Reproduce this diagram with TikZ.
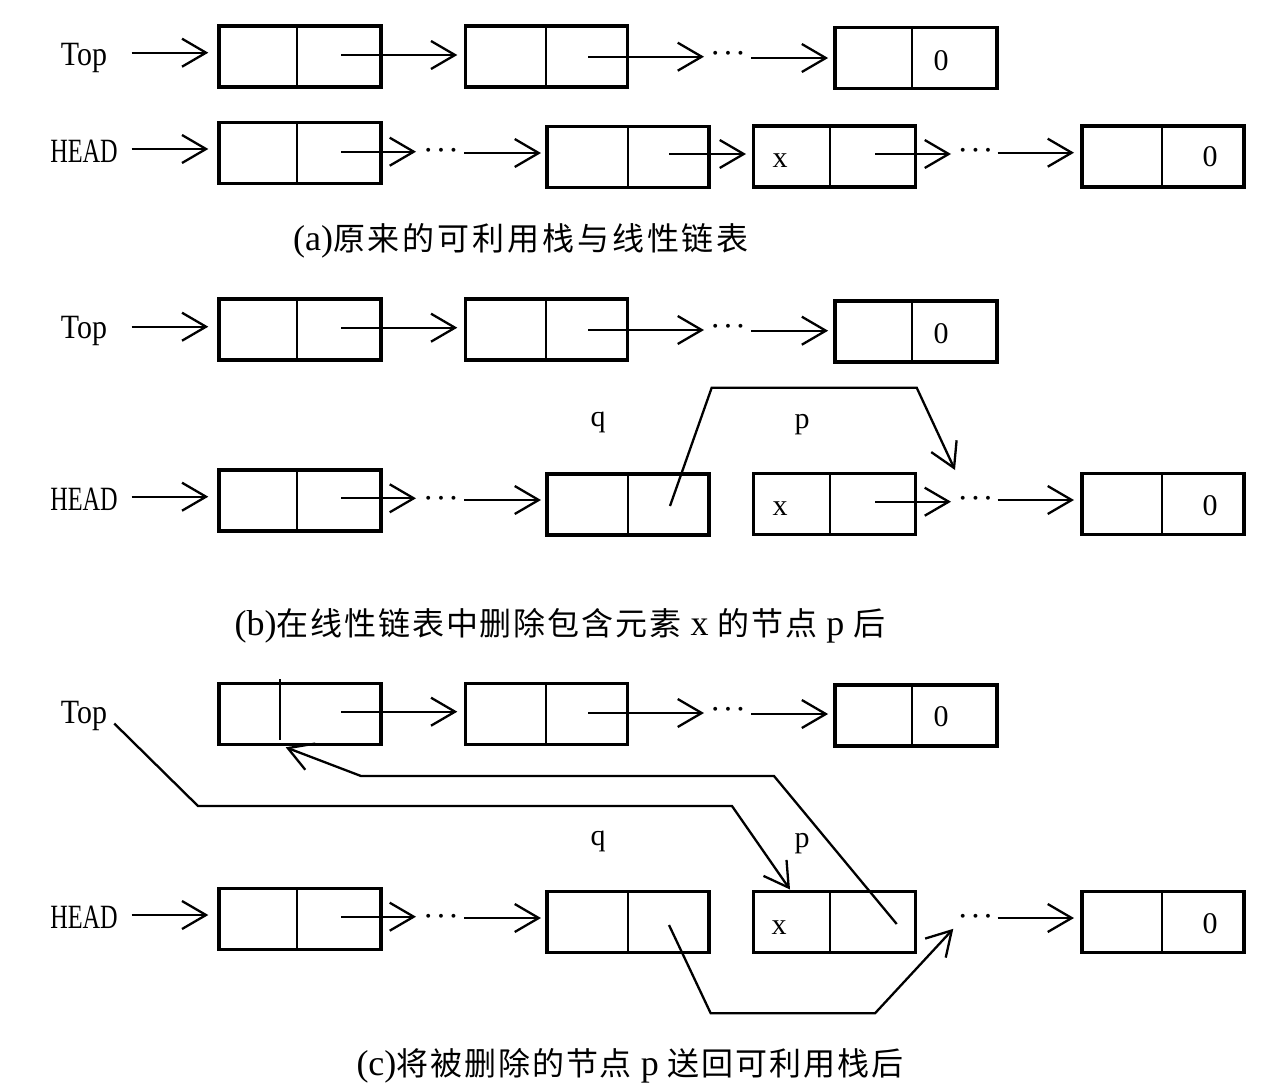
\documentclass[tikz,border=0pt]{standalone}
\usepackage{fontspec}
\usepackage{graphicx}
\setmainfont{Liberation Serif}
\newfontfamily\cjka[LetterSpace=9]{Noto Sans CJK SC}
\newfontfamily\cjkb[LetterSpace=6]{Noto Sans CJK SC}
\usetikzlibrary{arrows.meta,calc}
\newcommand\zhA[1]{{\fontsize{32}{36}\selectfont\cjka #1}}
\newcommand\zhB[1]{{\fontsize{32}{36}\selectfont\cjkb #1}}
\newcommand\lcell[4]{\node[cell] (#1) at (#2,#3) {};
  \draw[divl] ($(#1.north west)+(#4,0)$) -- ($(#1.south west)+(#4,0)$);}
\newcommand\harr[5]{\draw[arr] let \p1=(#1.center), \p2=(#3.center) in (\x1+#2pt,-#5pt) -- (\x2+#4pt,-#5pt);}
\begin{document}
\begin{tikzpicture}[x=1pt,y=-1pt,
  cell/.style={draw,line width=3.5pt,minimum width=162pt,minimum height=61pt,inner sep=0pt,outer sep=0pt},
  divl/.style={line width=2.2pt},
  arr/.style={line width=2.3pt,line join=miter,-{Straight Barb[length=24pt,width=28pt]}},
  lab/.style={font=\fontsize{34}{36}\selectfont,inner sep=0pt,anchor=base},
  val/.style={font=\fontsize{30}{32}\selectfont,inner sep=0pt,anchor=base},
  dotsn/.style={font=\fontsize{30}{32}\selectfont\boldmath,inner sep=0pt},
  captxt/.style={font=\fontsize{36}{40}\selectfont,inner sep=0pt,anchor=base}]
\fill[white] (0,0) rectangle (1280,1085);
\useasboundingbox (0,0) rectangle (1280,1085);

% ---------- (a) ----------
\node[lab] (TA) at (84,65) {\scalebox{0.88}[1]{Top}};
\node[lab] (HA) at (84,162) {\scalebox{0.714}[1]{HEAD}};
\lcell{A1}{300}{56.5}{78}
\lcell{A2}{546.3}{56.5}{81}
\lcell{A3}{916.1}{58}{77}
\node[dotsn] (DA) at (728,54) {$\cdots$};
\node[val] (zA) at (941,70) {0};
\harr{TA}{47.7}{A1}{-91.7}{52.7}
\harr{A1}{41}{A2}{-89}{55}
\harr{A2}{42}{DA}{-24}{56.7}
\harr{DA}{23}{A3}{-88}{58}

\lcell{H1}{300}{153}{78}
\lcell{H2}{628}{157}{81}
\lcell{H3}{834.3}{156.5}{77}
\lcell{H4}{1163}{156.5}{80}
\node[dotsn] (DH1) at (441,151) {$\cdots$};
\node[dotsn] (DH2) at (975.5,150.5) {$\cdots$};
\node[val] (xA) at (780,167.5) {x};
\node[val] (zH) at (1210,166.7) {0};
\harr{HA}{47.7}{H1}{-91.7}{149}
\harr{H1}{41}{DH1}{-25}{151.7}
\harr{DH1}{23}{H2}{-87}{153}
\harr{H2}{41}{H3}{-88.3}{154}
\harr{H3}{41}{DH2}{-24.5}{154}
\harr{DH2}{22}{H4}{-89}{152.7}
\node[captxt] (capA) at (521,250) {(a)\zhA{原来的可利用栈与线性链表}};

% ---------- (b) ----------
\node[lab] (TB) at (84,338) {\scalebox{0.88}[1]{Top}};
\node[lab] (HB) at (84,510) {\scalebox{0.714}[1]{HEAD}};
\lcell{B1}{300}{329.5}{78}
\lcell{B2}{546.3}{329.5}{81}
\lcell{B3}{916.1}{331.5}{77}
\node[dotsn] (DB) at (728,326.5) {$\cdots$};
\node[val] (zB) at (941,343) {0};
\harr{TB}{47.7}{B1}{-91.7}{326.7}
\harr{B1}{41}{B2}{-89}{327.7}
\harr{B2}{42}{DB}{-24}{330}
\harr{DB}{23}{B3}{-88}{330.7}

\lcell{G1}{300}{500.5}{78}
\lcell{G2}{628}{504.5}{81}
\lcell{G3}{834.3}{504}{77}
\lcell{G4}{1163}{504}{80}
\node[dotsn] (DG1) at (441,499) {$\cdots$};
\node[dotsn] (DG2) at (975.5,499) {$\cdots$};
\node[val] (xB) at (780,515) {x};
\node[val] (zG) at (1210,515) {0};
\node[val] (qB) at (598,426) {q};
\node[val] (pB) at (802,428) {p};
\harr{HB}{47.7}{G1}{-91.7}{496.7}
\harr{G1}{41}{DG1}{-25}{498.3}
\harr{DG1}{23}{G2}{-87}{500}
\harr{G3}{41}{DG2}{-24.5}{501.7}
\harr{DG2}{22}{G4}{-89}{500}
\draw[arr] ($(G2.center)+(42,1.5)$) -- (711.7,387.7) -- (916.7,387.7) -- ($(DG2.center)+(-20.5,-29)$);
\node[captxt] (capB) at (560,635) {(b)\zhB{在线性链表中删除包含元素} x \zhB{的节点} p \zhB{后}};

% ---------- (c) ----------
\node[lab] (TC) at (84,723) {\scalebox{0.88}[1]{Top}};
\node[lab] (HC) at (84,928) {\scalebox{0.714}[1]{HEAD}};
\node[cell] (C1) at (300,714) {};
\draw[divl] ($(C1.center)+(-20,-35)$) -- ($(C1.center)+(-20,26)$);
\lcell{C2}{546.3}{714}{81}
\lcell{C3}{916.1}{715.5}{77}
\node[dotsn] (DC) at (728,710) {$\cdots$};
\node[val] (zC) at (941,726.7) {0};
\harr{C1}{41}{C2}{-89}{711.7}
\harr{C2}{42}{DC}{-24}{713}
\harr{DC}{23}{C3}{-88}{714}

\lcell{K1}{300}{919}{78}
\lcell{K2}{628}{922}{81}
\lcell{K3}{834.3}{922}{77}
\lcell{K4}{1163}{922}{80}
\node[dotsn] (DK1) at (441,917) {$\cdots$};
\node[dotsn] (DK2) at (975.5,916.5) {$\cdots$};
\node[val] (xC) at (779,934) {x};
\node[val] (zK) at (1210,933) {0};
\node[val] (qC) at (598,845) {q};
\node[val] (pC) at (802,847) {p};
\harr{HC}{47.7}{K1}{-91.7}{915}
\harr{K1}{41}{DK1}{-25}{916.7}
\harr{DK1}{23}{K2}{-87}{918}
\harr{DK2}{22}{K4}{-89}{918}
\draw[arr] ($(TC.east)+(7,8)$) -- (198,806) -- (732,806) -- ($(K3.north)+(-44.3,-2)$);
\draw[arr] ($(K3.center)+(62.4,2)$) -- (774,776) -- (361,776) -- ($(C1.south)+(-14.3,2.8)$);
\draw[arr] ($(K2.center)+(41,3)$) -- (710.7,1013.3) -- (875,1013.3) -- ($(DK2.center)+(-22.2,12.3)$);
\node[captxt] (capC) at (630,1075) {(c)\zhB{将被删除的节点} p \zhB{送回可利用栈后}};
\end{tikzpicture}
\end{document}
